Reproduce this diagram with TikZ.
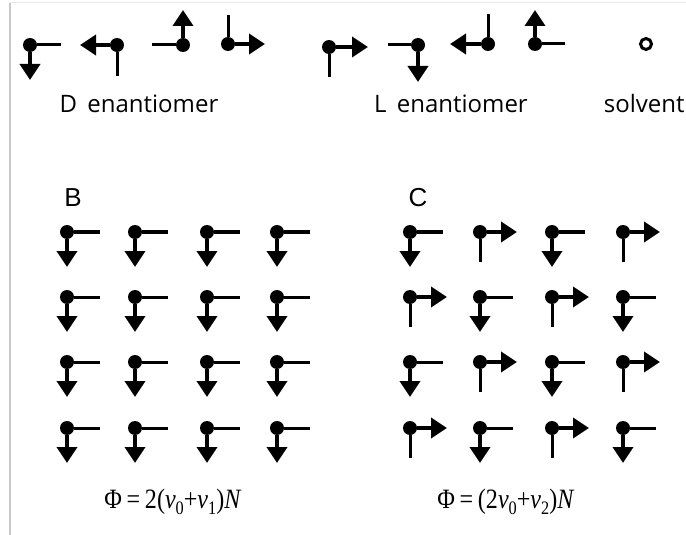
\documentclass[tikz,border=0pt]{standalone}
\usepackage{fontspec}
\setmainfont{Open Sans}
\newfontfamily\panelfont{Liberation Sans}
\newfontfamily\formulafont[FakeStretch=0.86]{Liberation Serif}
\usetikzlibrary{
  arrows.meta,
  calc
}
\definecolor{spinblack}{RGB}{0,0,0}
\definecolor{framegray}{RGB}{200,200,200}
\definecolor{frametop}{RGB}{232,232,232}
\tikzset{
  atom/.style={
    circle,
    fill=spinblack,
    inner sep=0pt,
    minimum size=7pt
  },
  solventAtom/.style={
    circle,
    draw=spinblack,
    line width=1.5pt,
    inner sep=0pt,
    minimum size=5.5pt
  },
  bondLine/.style={
    line width=1.5pt,
    draw=spinblack
  },
  spinArrow/.style={
    -{Triangle[length=8pt,width=10pt]},
    line width=1.8pt,
    draw=spinblack
  },
  caption/.style={
    font=\fontsize{12}{14}\selectfont
  },
  panelLabel/.style={
    font=\panelfont\fontsize{13}{16}\selectfont
  },
  formula/.style={
    font=\formulafont\fontsize{14}{16}\selectfont
  }
}
\newcommand{\lowsub}[1]{\raisebox{-0.45ex}{\fontsize{9.5}{10}\selectfont #1}}
% molecule: name, position, arrow offset, bond offset
\newcommand{\mol}[4]{%
  \node[atom] (#1) at (#2) {};
  \coordinate (#1a) at ($(#1)+(#3)$);
  \coordinate (#1b) at ($(#1)+(#4)$);
  \draw[bondLine] (#1) -- (#1b);
  \draw[spinArrow] (#1) -- (#1a);
}

\begin{document}
\begin{tikzpicture}[x=0.5pt,y=-0.5pt]
  \useasboundingbox (0,0) rectangle (686,535);
  \draw[frametop, line width=0.5pt] (10,3) -- (686,3);
  \draw[framegray, line width=0.6pt] (10,3) -- (10,535);

  % D and L enantiomers
  \mol{D1}{30,45}{0,35}{31,0}
  \mol{D2}{117,45}{-37,0}{0,31}
  \mol{D3}{183,45}{0,-35}{-31,0}
  \mol{D4}{228,44}{37,0}{0,-29}
  \mol{L1}{329,47}{39,0}{0,30}
  \mol{L2}{418,45}{0,37}{-30,0}
  \mol{L3}{488,44}{-38,0}{0,-30}
  \mol{L4}{535,44}{0,-34}{30,0}
  \node[solventAtom] (solvent) at (646,44) {};

  \node[caption] (dLabel) at (139,104) {D\, enantiomer};
  \node[caption] (lLabel) at (451,104) {L\, enantiomer};
  \node[caption, anchor=east, inner xsep=0pt] (sLabel) at (685,104) {solvent};

  % panel B
  \node[panelLabel] (bLabel) at (73,198) {B};
  \foreach \y [count=\r] in {232,297,362,428}
    \foreach \x [count=\c] in {67,135,207,277}
      \mol{B\r\c}{\x,\y}{0,35}{33,0};

  % panel C
  \node[panelLabel] (cLabel) at (418,198) {C};
  \foreach \y [count=\r] in {232,297,362,428}
    \foreach \x [count=\c] in {410,480,552,623} {
      \pgfmathtruncatemacro\parity{mod(\r+\c,2)}
      \ifnum\parity=1
        \mol{C\r\c}{\x,\y}{37,0}{0,30}
      \else
        \mol{C\r\c}{\x,\y}{0,35}{33,0}
      \fi
    }

  \node[formula] (bFormula) at (173,502)
    {Φ\,=\,2(\textit{v}\lowsub{0}+\textit{v}\lowsub{1})\textit{N}};
  \node[formula] (cFormula) at (506,502)
    {Φ\,=\,(2\textit{v}\lowsub{0}+\textit{v}\lowsub{2})\textit{N}};
\end{tikzpicture}
\end{document}
